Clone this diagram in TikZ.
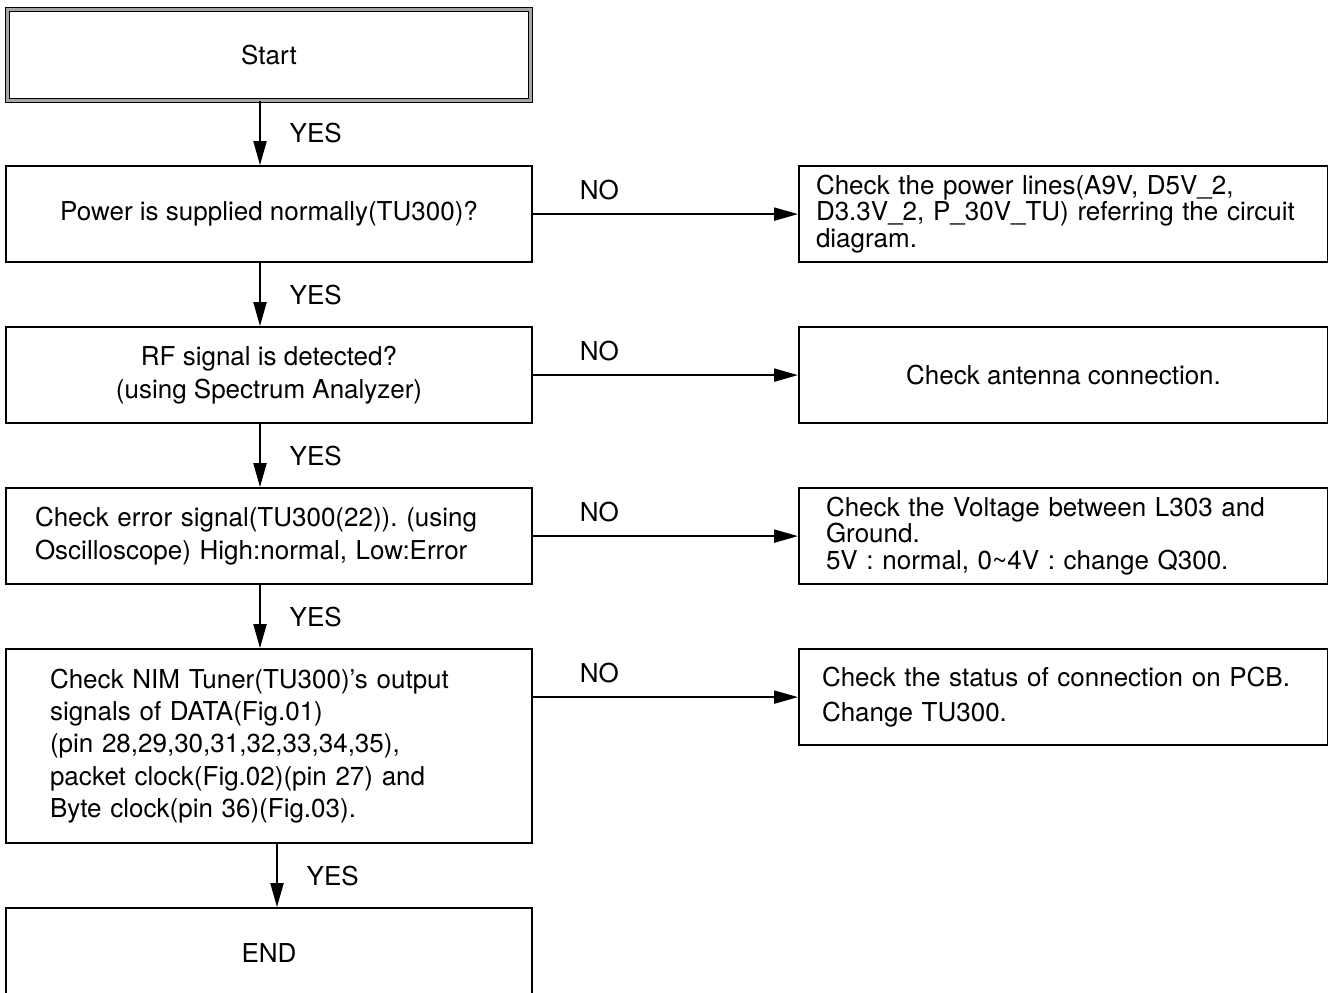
\documentclass[tikz,border=0pt]{standalone}
\usepackage{fontspec}
\setmainfont{TeX Gyre Heros}
\usetikzlibrary{positioning,arrows.meta}
\frenchspacing

\begin{document}
\begin{tikzpicture}[x=0.5pt,y=-0.5pt,node distance=31.5pt,
    every node/.style={font=\fontsize{13pt}{16.2pt}\selectfont},
    box/.style={draw,line width=1pt,minimum width=263pt,minimum height=48pt,align=center},
    sidebox/.style={draw,line width=1pt,minimum width=264.5pt,minimum height=48pt,align=center},
    tight/.style={font=\fontsize{13pt}{13.4pt}\selectfont},
    flow/.style={-{Triangle[length=12pt,width=6.5pt]},line width=1pt}]
    \useasboundingbox (0,0) rectangle (1328,992);

    % left column
    \node[draw,line width=0.6pt,double=gray!70,double distance=1.2pt,
          minimum width=261.5pt,minimum height=45.5pt] (start) at (269,55) {Start};
    \node[box,below=32pt of start] (power) {Power is supplied normally(TU300)?};
    \node[box,below=of power] (rf) {RF signal is detected?\\(using Spectrum Analyzer)};
    \node[box,below=of rf,align=left,text width=234pt,inner xsep=14.5pt] (err)
        {Check error signal(TU300(22)). (using\\Oscilloscope) High:normal, Low:Error};
    \node[box,below=of err,minimum height=97pt,align=left,text width=219pt,inner xsep=22pt] (nim)
        {Check NIM Tuner(TU300)'s output\\signals of DATA(Fig.01)\\(pin 28,29,30,31,32,33,34,35),\\packet clock(Fig.02)(pin 27) and\\Byte clock(pin 36)(Fig.03).};
    \node[box,below=of nim,minimum height=45pt] (end) {END};

    % right column
    \node[sidebox,tight,right=132.5pt of power,align=left,text width=247.5pt,inner xsep=8.5pt] (lines)
        {Check the power lines(A9V, D5V\_2,\\D3.3V\_2, P\_30V\_TU) referring the circuit\\diagram.};
    \node[sidebox,right=132.5pt of rf] (antenna) {Check antenna connection.};
    \node[sidebox,tight,right=132.5pt of err,align=left,text width=237.5pt,inner xsep=13.5pt] (volt)
        {Check the Voltage between L303 and\\Ground.\\5V : normal, 0\textasciitilde4V : change Q300.};
    \node[sidebox,right=132.5pt of nim.north east,anchor=north west,align=left,
          text width=241.5pt,inner xsep=11.5pt,font=\fontsize{13pt}{17.5pt}\selectfont] (pcb)
        {Check the status of connection on PCB.\\Change TU300.};

    % YES connectors
    \draw[flow] ([xshift=-4.5pt]start.south) -- node[right=11pt] {YES} ([xshift=-4.5pt]power.north);
    \draw[flow] ([xshift=-4.5pt]power.south) -- node[right=11pt] {YES} ([xshift=-4.5pt]rf.north);
    \draw[flow] ([xshift=-4.5pt]rf.south) -- node[right=11pt] {YES} ([xshift=-4.5pt]err.north);
    \draw[flow] ([xshift=-4.5pt]err.south) -- node[right=11pt] {YES} ([xshift=-4.5pt]nim.north);
    \draw[flow] ([xshift=4pt]nim.south) -- node[right=11pt] {YES} ([xshift=4pt]end.north);

    % NO connectors
    \draw[flow] (power) -- node[pos=0.25,above=3pt] {NO} (lines);
    \draw[flow] (rf) -- node[pos=0.25,above=3pt] {NO} (antenna);
    \draw[flow] (err) -- node[pos=0.25,above=3pt] {NO} (volt);
    \draw[flow] (nim.east |- pcb) -- node[pos=0.25,above=3pt] {NO} (pcb);

\end{tikzpicture}
\end{document}
